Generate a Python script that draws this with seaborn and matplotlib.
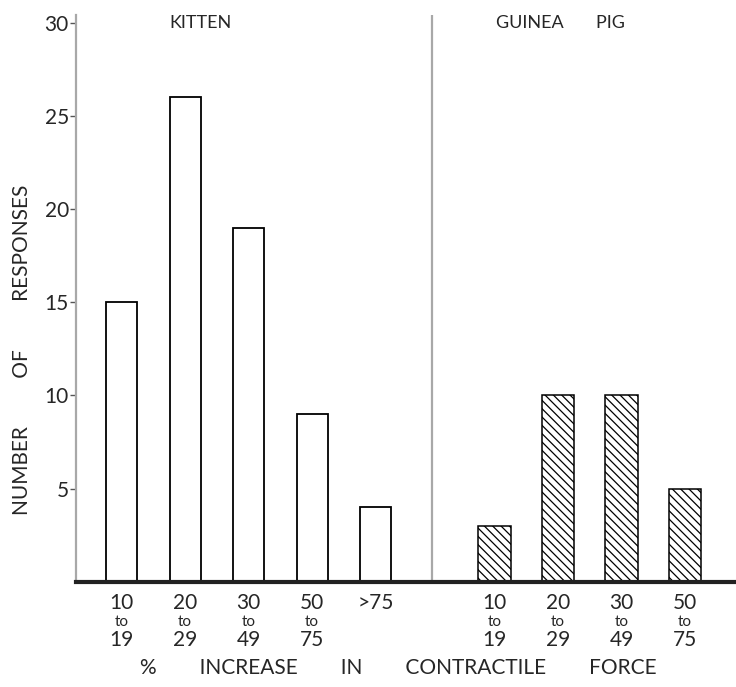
import numpy as np
import pandas as pd
import matplotlib
matplotlib.use("Agg")
import matplotlib.pyplot as plt
import matplotlib.transforms as mtransforms
import seaborn as sns

# Response counts by percentage increase in contractile force
kitten_bins = ["10-19", "20-29", "30-49", "50-75", ">75"]
kitten_counts = [15, 26, 19, 9, 4]
guinea_bins = ["10-19", "20-29", "30-49", "50-75"]
guinea_counts = [3, 10, 10, 5]

kitten_labels = [("10", "to", "19"), ("20", "to", "29"), ("30", "to", "49"),
                 ("50", "to", "75"), (">75", "", "")]
guinea_labels = [("10", "to", "19"), ("20", "to", "29"), ("30", "to", "49"),
                 ("50", "to", "75")]
y_ticks = [5, 10, 15, 20, 25, 30]

sns.set_style("white")
plt.rcParams["font.family"] = ["Lato", "DejaVu Sans"]

# bar positions: the two groups sit apart with a divider between them
kx = np.arange(len(kitten_counts)).astype(float)
gx = np.arange(len(guinea_counts)) + 5.87
divider_x = 4.88

df_k = pd.DataFrame({"x": kx, "n": kitten_counts})
df_g = pd.DataFrame({"x": gx, "n": guinea_counts})

fig = plt.figure(figsize=(7.36, 6.87), dpi=100)
ax = fig.add_axes([0.103, 0.153, 0.897, 0.825])

sns.barplot(data=df_k, x="x", y="n", native_scale=True, width=0.49,
            color="white", edgecolor="black", linewidth=1.3, ax=ax)
plt.rcParams["hatch.linewidth"] = 0.9
sns.barplot(data=df_g, x="x", y="n", native_scale=True, width=0.51,
            color="white", edgecolor="black", linewidth=1.1,
            hatch="\\\\\\\\", ax=ax)

ax.set_xlim(-0.72, 9.67)
ax.set_ylim(0, 30.4)
ax.set_xticks([])
ax.set_yticks(y_ticks)
ax.set_yticklabels([str(t) for t in y_ticks], fontsize=15)
ax.tick_params(axis="y", direction="out", length=4, width=1, pad=1, left=True,
               color="#555555")
ax.set_xlabel("")
ax.set_ylabel("")

for s in ["top", "right"]:
    ax.spines[s].set_visible(False)
ax.spines["left"].set_color("#a8a8a8")
ax.spines["left"].set_linewidth(1.6)
ax.spines["bottom"].set_color("#222222")
ax.spines["bottom"].set_linewidth(3)

ax.axvline(divider_x, ymin=0, ymax=1.0, color="#a8a8a8", lw=1.6)

# group titles
ax.text(1.25, 30.0, "KITTEN", ha="center", va="center", fontsize=13)
ax.text(6.9, 30.0, "GUINEA       PIG", ha="center", va="center", fontsize=13)

# stacked range labels under the bars
trans = mtransforms.blended_transform_factory(ax.transData, fig.transFigure)
for xs, labels in ((kx, kitten_labels), (gx, guinea_labels)):
    for x, (lo, mid, hi) in zip(xs, labels):
        ax.text(x, 1 - 603 / 687, lo, transform=trans, ha="center",
                va="center", fontsize=15)
        if mid:
            ax.text(x, 1 - 622 / 687, mid, transform=trans, ha="center",
                    va="center", fontsize=11)
        if hi:
            ax.text(x, 1 - 640 / 687, hi, transform=trans, ha="center",
                    va="center", fontsize=15)

fig.text(398 / 736, 1 - 668 / 687,
         "%        INCREASE        IN        CONTRACTILE        FORCE",
         ha="center", va="center", fontsize=15)
fig.text(22 / 736, 1 - 350 / 687,
         "NUMBER         OF         RESPONSES",
         ha="center", va="center", rotation=90, fontsize=15)

fig.savefig("out.png", dpi=100, facecolor="white")
